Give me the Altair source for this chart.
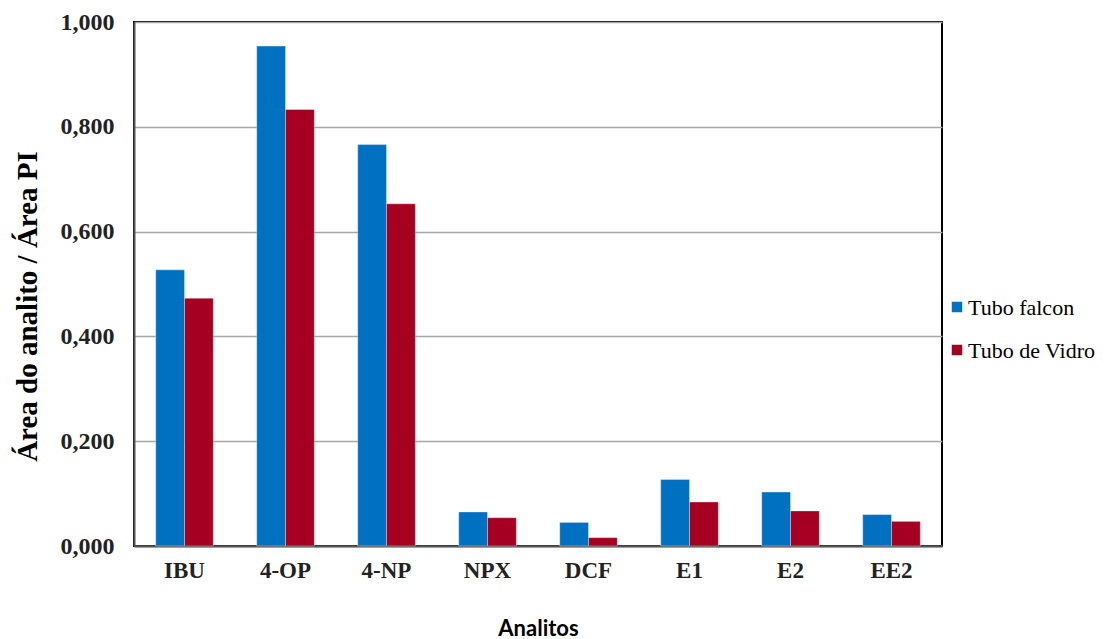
import altair as alt
import pandas as pd

categories = ["IBU", "4-OP", "4-NP", "NPX", "DCF", "E1", "E2", "EE2"]
falcon = [0.527, 0.954, 0.766, 0.065, 0.045, 0.127, 0.103, 0.060]
vidro = [0.473, 0.833, 0.653, 0.054, 0.016, 0.084, 0.067, 0.047]
series = ["Tubo falcon", "Tubo de Vidro"]
colors = ["#0070C0", "#A50021"]

rows = []
for c, f, v in zip(categories, falcon, vidro):
    rows.append({"Analito": c, "Serie": series[0], "Valor": f})
    rows.append({"Analito": c, "Serie": series[1], "Valor": v})
df = pd.DataFrame(rows)
leg = pd.DataFrame({"Serie": series})

serif = "Liberation Serif"
legend_font = "Liberation Serif, Times New Roman, DejaVu Serif, serif"

bars = alt.Chart(df).mark_bar(stroke="white", strokeWidth=0.6, strokeOpacity=0.6).encode(
    x=alt.X("Analito:N", sort=categories,
            scale=alt.Scale(paddingInner=0.43, paddingOuter=0.215),
            axis=alt.Axis(title="Analitos", labelAngle=0, labelFont=serif, labelFontSize=23,
                          labelFontWeight="bold", labelColor="#222222", labelPadding=13,
                          ticks=False, domain=True, domainColor="#555555", domainWidth=2,
                          titleFont="Lato", titleFontSize=22, titleFontWeight="bold",
                          titleColor="black", titleY=82, titleBaseline="middle")),
    xOffset=alt.XOffset("Serie:N", sort=series),
    y=alt.Y("Valor:Q", scale=alt.Scale(domain=[0, 1], nice=False),
            axis=alt.Axis(title="Área do analito / Área PI", values=[0, 0.2, 0.4, 0.6, 0.8, 1.0],
                          labelExpr="replace(format(datum.value, '.3f'), '.', ',')",
                          labelFont=serif, labelFontSize=24, labelFontWeight="bold",
                          labelColor="#222222", labelPadding=20, ticks=False,
                          domain=True, domainColor="#555555", domainWidth=2,
                          grid=True, gridColor="#A6A6A6", gridWidth=1.5,
                          titleFont=serif, titleFontSize=29, titleFontWeight="bold",
                          titleColor="black", titleX=-92, titleY=284)),
    color=alt.Color("Serie:N", sort=series,
                    scale=alt.Scale(domain=series, range=colors), legend=None),
)

leg_y = alt.Y("Serie:N", sort=series,
              scale=alt.Scale(domain=series, range=[285, 328], padding=0), axis=None)

leg_sq = alt.Chart(leg).mark_square(size=110, opacity=1).encode(
    x=alt.value(823),
    y=leg_y,
    color=alt.Color("Serie:N", sort=series, scale=alt.Scale(domain=series, range=colors), legend=None),
)

leg_txt = alt.Chart(leg).mark_text(align="left", baseline="middle", font=legend_font, fontSize=22,
                                   color="black", dy=1).encode(
    x=alt.value(834),
    y=leg_y,
    text="Serie:N",
)

chart = alt.layer(bars, leg_sq, leg_txt).resolve_scale(y="independent").properties(
    width=808, height=524,
    background="white",
    autosize=alt.AutoSizeParams(type="none"),
    padding={"left": 134, "top": 22, "right": 168, "bottom": 93},
).configure_view(
    stroke="black", strokeWidth=2
)

chart.save("out.html", embed_options={"renderer": "svg", "actions": False})
